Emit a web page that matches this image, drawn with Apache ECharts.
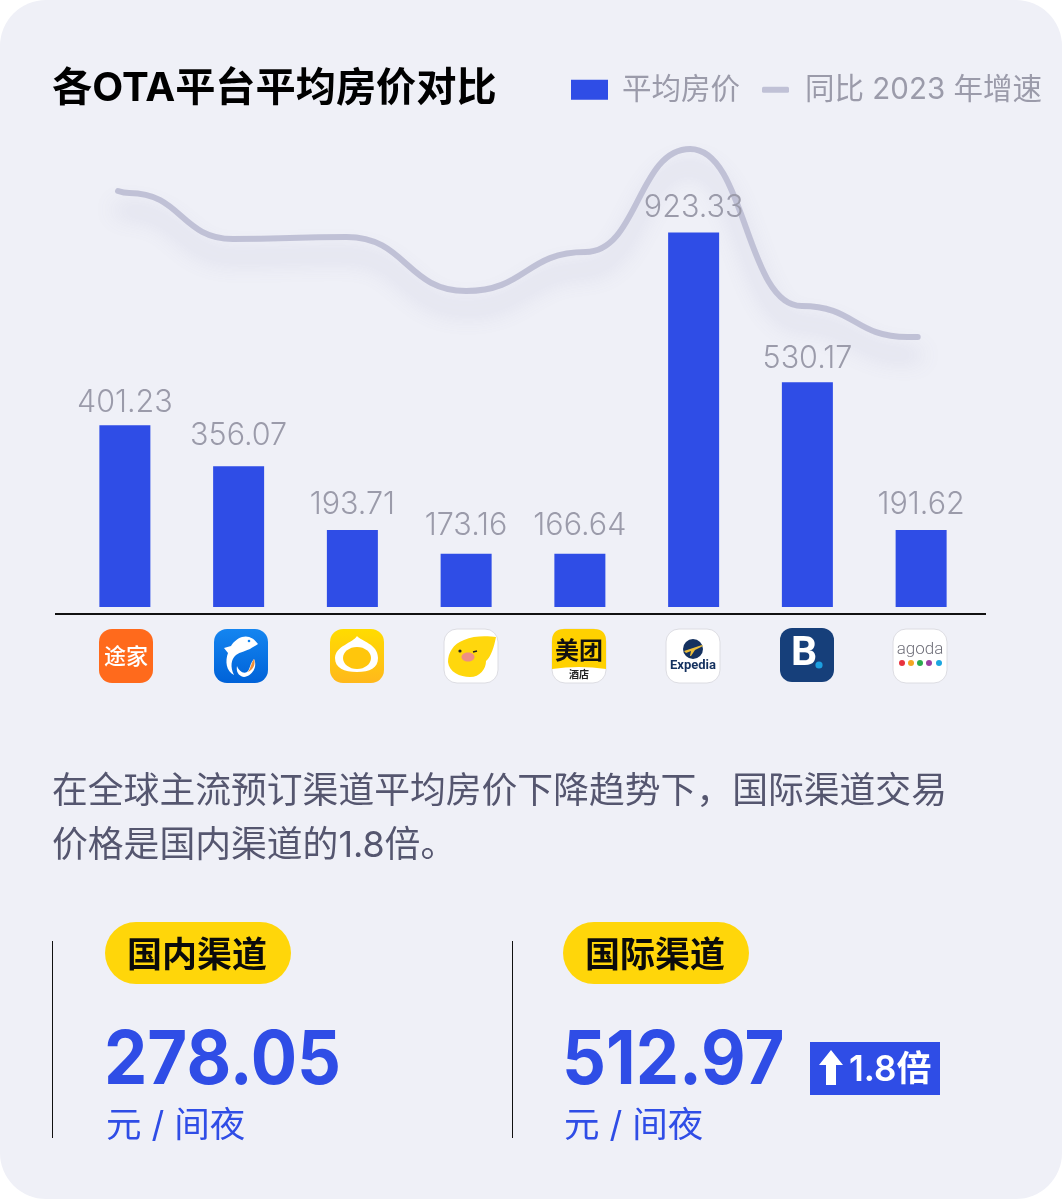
<!DOCTYPE html>
<html>
<head>
<meta charset="utf-8">
<title>各OTA平台平均房价对比</title>
<script src="https://cdn.jsdelivr.net/npm/echarts@6/dist/echarts.min.js"></script>
<style>
html, body { margin: 0; padding: 0; background: #fff; }
#main { width: 1062px; height: 1199px; background: #eff0f7; border-radius: 46px; overflow: hidden; }
</style>
</head>
<body>
<div id="main"></div>
<script>
var platforms = ['途家', '携程', '去哪儿', '飞猪', '美团酒店', 'Expedia', 'Booking', 'agoda'];
// printed above each bar
var priceLabels = ['401.23', '356.07', '193.71', '173.16', '166.64', '923.33', '530.17', '191.62'];
// the bars in the picture are not to scale with their printed numbers,
// so these are the lengths as drawn, in the same units as the 923.33 bar
var drawnPrices = [448, 347, 190, 131, 131, 923, 554, 190];
// no numbers are printed for this line on a 0-100 scale.
// growthSlots: where along the 8 category bands each reading sits (0.5 = middle of first band)
var growthSlots = [0.44, 0.54, 1.45, 2.45, 3.5, 4.55, 5.47, 6.45, 7.38, 7.47];
var growthLine = [83.2, 82.8, 73.6, 74, 63.2, 71, 91.6, 60.2, 54, 54];

var BLUE = '#2f4de6';
var GREY = '#9b9baa';
var CJK = 'Inter, "Noto Sans CJK SC", sans-serif';
var LATIN = 'Roboto, sans-serif';

function txt(text, x, y, size, weight, fill, align, family) {
    return {
        type: 'text',
        style: {
            text: text, x: x, y: y, fill: fill,
            font: weight + ' ' + size + 'px ' + (family || CJK),
            textAlign: align || 'left', textVerticalAlign: 'middle'
        }
    };
}
function rect(x, y, w, h, r, fill, stroke) {
    return {
        type: 'rect',
        shape: { x: x, y: y, width: w, height: h, r: r },
        style: { fill: fill, stroke: stroke || null, lineWidth: stroke ? 1 : 0 }
    };
}
var pathCount = 0;
function path(d, fill) {
    var name = 'iconPath' + (pathCount++);
    echarts.graphic.registerShape(name, echarts.graphic.extendPath(d, {}));
    return { type: name, style: { fill: fill } };
}
function dot(x, y, r, fill) {
    return { type: 'circle', shape: { cx: x, cy: y, r: r }, style: { fill: fill } };
}
function vgrad(a, b) {
    return new echarts.graphic.LinearGradient(0, 0, 0, 1, [{ offset: 0, color: a }, { offset: 1, color: b }]);
}
function poly(points, fill) {
    return { type: 'polygon', shape: { points: points }, style: { fill: fill } };
}
function icon(left, top, children) {
    return { type: 'group', x: left, y: top, children: children };
}

var icons = [
    icon(99, 629, [
        rect(0, 0, 54, 54, 13, '#ff6a1c'),
        txt('途家', 27, 28, 22, 500, '#fff', 'center')
    ]),
    icon(214, 629, [
        rect(0, 0, 54, 54, 13, vgrad('#1485f0', '#0062d8')),
        path('M44 15 C40 9 34 6 28 8 C22 10 19 14 17 17 L10 19 L14 24 C11 32 12 42 20 46 C16 38 17 30 22 26 C26 23 32 22 36 20 C38 18 42 17 44 15Z', '#fff'),
        path('M40 30 C44 38 38 47 30 48 C24 47 22 42 23 37 C25 42 29 45 33 43 C36 41 36 34 40 30Z', '#fff'),
        path('M40 30 C42 35 39 41 34 43 C37 39 37 34 40 30Z', '#ef8f3a'),
        dot(35, 12, 1.3, '#1485f0')
    ]),
    icon(330, 629, [
        rect(0, 0, 54, 54, 13, vgrad('#ffdc00', '#ffb81c')),
        path('M27 7 C31 12 48 15 48 29 C48 39 40 43 27 43 C14 43 5 39 5 29 C5 17 23 14 27 7Z', '#fff'),
        { type: 'ellipse', shape: { cx: 27, cy: 29, rx: 14, ry: 11 }, style: { fill: '#ffc60c' } }
    ]),
    icon(444, 629, [
        rect(0, 0, 54, 54, 13, '#fff', '#dcdce2'),
        path('M52 8 C45 7 30 6 20 11 C9 15 4 24 4 33 C5 43 16 48 26 48 C36 48 42 40 42 32 C47 28 50 18 52 8Z', '#ffd70d'),
        { type: 'ellipse', shape: { cx: 24, cy: 28, rx: 6.5, ry: 4.5 }, style: { fill: '#ee8f84' } },
        dot(16, 22, 1.6, '#222'),
        { type: 'line', shape: { x1: 29, y1: 23, x2: 33, y2: 22 }, style: { stroke: '#222', lineWidth: 1.5 } }
    ]),
    icon(552, 629, [
        rect(0, 0, 54, 54, 13, '#fff', '#dcdce2'),
        path('M0 12 Q0 0 12 0 H42 Q54 0 54 12 V40 Q27 36 0 40Z', '#ffd100'),
        txt('美团', 27, 23, 24, 700, '#111', 'center'),
        txt('酒店', 27, 46, 10, 700, '#222', 'center')
    ]),
    icon(666, 629, [
        rect(0, 0, 54, 54, 13, '#fff', '#dcdce2'),
        dot(27, 20, 10, '#14315f'),
        poly([[18, 22], [36, 16], [37, 17], [29, 21], [25, 27], [24, 27], [25, 22], [20, 24]], '#e9bd3c'),
        txt('Expedia', 27, 37, 13, 700, '#14315f', 'center', LATIN)
    ]),
    icon(780, 628, [
        rect(0, 0, 54, 54, 12, '#163f7a'),
        txt('B', 11, 27, 41, 700, '#fff', 'left', LATIN),
        dot(39, 37, 3.6, '#1c9fe0')
    ]),
    icon(893, 629, [
        rect(0, 0, 54, 54, 13, '#fff', '#dcdce2'),
        txt('agoda', 27, 21, 17, 300, '#70707a', 'center', LATIN),
        dot(9, 34, 3, '#e8333f'),
        dot(18, 34, 3, '#f5a623'),
        dot(27, 34, 3, '#2bab4f'),
        dot(36, 34, 3, '#9b3fa0'),
        dot(46, 34, 3, '#1ba6e0')
    ])
];

function channel(lineX, x, name, price) {
    var big = txt(price, x - 1, 1062, 74, 700, BLUE);
    big.scaleX = 0.93;
    big.originX = x - 1;
    return [
        { type: 'line', shape: { x1: lineX + 0.5, y1: 941, x2: lineX + 0.5, y2: 1138 }, style: { stroke: '#111', lineWidth: 1 } },
        rect(x, 922, 186, 62, 31, '#ffd60a'),
        txt(name, x + 92, 956, 35, 700, '#0b0b0b', 'center'),
        big,
        txt('元 / 间夜', x + 1, 1126, 35.5, 400, BLUE)
    ];
}

var extras = [
    { type: 'line', shape: { x1: 55, y1: 614, x2: 986, y2: 614 }, style: { stroke: '#111', lineWidth: 2 } },
    txt('在全球主流预订渠道平均房价下降趋势下，国际渠道交易', 52, 792, 35.8, 400, '#55566f'),
    txt('价格是国内渠道的1.8倍。', 52, 846, 35.8, 400, '#55566f')
].concat(channel(52, 105, '国内渠道', '278.05'), channel(512, 563, '国际渠道', '512.97'), [
    rect(810, 1042, 130, 53, 0, BLUE),
    poly([[831, 1050], [843, 1065], [836, 1065], [836, 1085], [826, 1085], [826, 1065], [819, 1065]], '#fff'),
    txt('1.8倍', 849, 1070, 35, 600, '#fff')
], icons);

// gap between bar top and its number differs from bar to bar in the picture
var labelGaps = [7, 15, 10, 13, 13, 9, 8, 10];

var myChart = echarts.init(document.getElementById('main'), null, { renderer: 'canvas' });
var option = {
    animation: false,
    title: {
        text: '各OTA平台平均房价对比',
        left: 52,
        top: 69,
        padding: 0,
        textStyle: { fontFamily: CJK, fontSize: 40.2, fontWeight: 700, color: '#000' }
    },
    legend: [
        {
            data: ['平均房价'],
            left: 571,
            top: 75,
            padding: 0,
            selectedMode: false,
            icon: 'rect',
            itemWidth: 37,
            itemHeight: 20,
            textStyle: { fontFamily: CJK, fontSize: 29.5, color: GREY, padding: [0, 0, 0, 9] }
        },
        {
            data: ['同比 2023 年增速'],
            left: 762,
            top: 75,
            padding: 0,
            selectedMode: false,
            icon: 'roundRect',
            itemWidth: 27,
            itemHeight: 6,
            textStyle: { fontFamily: CJK, fontSize: 29.5, color: GREY, padding: [0, 0, 0, 11] }
        }
    ],
    grid: { left: 68, right: 84, top: 107, bottom: 592 },
    xAxis: [
        {
            type: 'category',
            data: platforms,
            axisLine: { show: false },
            axisTick: { show: false },
            axisLabel: { show: false }
        },
        { type: 'value', min: 0, max: 8, show: false }
    ],
    yAxis: [
        { type: 'value', min: 0, max: 1232, show: false },
        { type: 'value', min: 0, max: 100, show: false }
    ],
    series: [
        {
            name: '同比 2023 年增速',
            type: 'line',
            xAxisIndex: 1,
            yAxisIndex: 1,
            z: 2,
            data: growthLine.map(function (v, i) { return [growthSlots[i], v]; }),
            smooth: 0.5,
            smoothMonotone: 'x',
            showSymbol: false,
            symbol: 'none',
            itemStyle: { color: '#c0c1d6' },
            lineStyle: {
                color: '#c0c1d6',
                width: 6,
                cap: 'round',
                shadowColor: 'rgba(120,120,170,0.3)',
                shadowBlur: 22,
                shadowOffsetY: 18
            }
        },
        {
            name: '平均房价',
            type: 'bar',
            z: 3,
            barWidth: 51,
            data: drawnPrices.map(function (v, i) {
                return { value: v, label: { distance: labelGaps[i] } };
            }),
            itemStyle: { color: BLUE },
            label: {
                show: true,
                position: 'top',
                fontFamily: CJK,
                fontSize: 30.5,
                fontWeight: 300,
                color: GREY,
                formatter: function (p) { return priceLabels[p.dataIndex]; }
            }
        }
    ],
    graphic: extras
};
myChart.setOption(option, true);
</script>
</body>
</html>
